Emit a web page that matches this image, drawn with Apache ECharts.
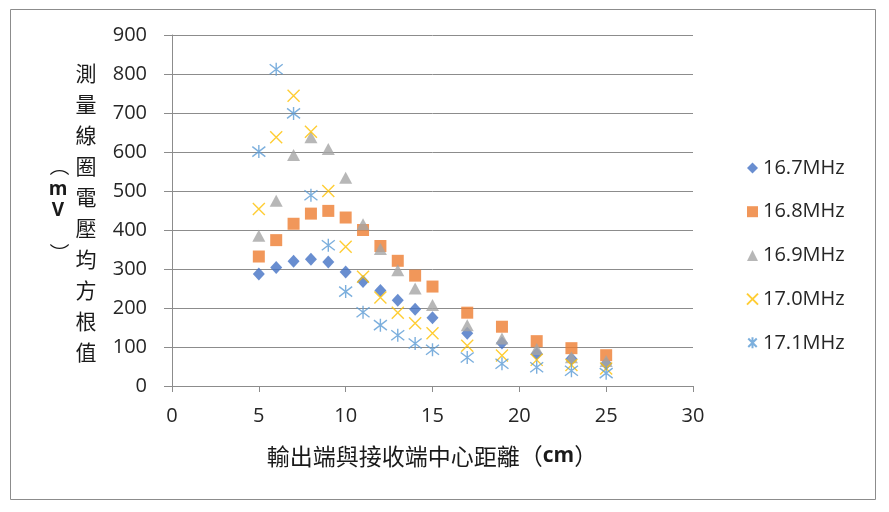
<!DOCTYPE html>
<html>
<head>
<meta charset="utf-8">
<script src="https://cdn.jsdelivr.net/npm/echarts@6/dist/echarts.min.js"></script>
<style>html,body{margin:0;padding:0;background:#fff;}#c{width:889px;height:512px;}</style>
</head>
<body>
<div id="c"></div>
<script>
const distances = [5, 6, 7, 8, 9, 10, 11, 12, 13, 14, 15, 17, 19, 21, 23, 25];
const seriesNames = ['16.7MHz', '16.8MHz', '16.9MHz', '17.0MHz', '17.1MHz'];
const f167 = [287, 304, 320, 325, 318, 292, 268, 245, 220, 197, 175, 135, 110, 83, 70, 57];
const f168 = [332, 374, 416, 442, 449, 432, 400, 359, 321, 283, 255, 188, 152, 115, 97, 79];
const f169 = [385, 475, 592, 638, 608, 534, 415, 351, 297, 250, 208, 156, 122, 95, 74, 64];
const f170 = [454, 638, 744, 652, 500, 357, 280, 227, 188, 161, 135, 103, 78, 67, 54, 45];
const f171 = [601, 812, 699, 489, 361, 242, 189, 156, 130, 109, 93, 73, 57, 48, 39, 33];
const xTicks = [0, 5, 10, 15, 20, 25, 30];
const yTicks = [0, 100, 200, 300, 400, 500, 600, 700, 800, 900];

const colors = ['#4472C4', '#ED7D31', '#A5A5A5', '#FFC000', '#5B9BD5'];
const xPath = 'path://M0,0L10,10M10,0L0,10';
const starPath = 'path://M0,0L10,10M10,0L0,10M5,-1.5L5,11.5';

function pts(vals) { return distances.map((d, i) => [d, vals[i]]); }

const values = [f167, f168, f169, f170, f171];
const symbols = ['diamond', 'rect', 'triangle', xPath, starPath];
const sizes = [[12, 13], 12, [13, 12], 12, 13];

const series = values.map((v, i) => {
  const lineOnly = i >= 3;
  return {
    name: seriesNames[i],
    type: 'scatter',
    data: pts(v),
    symbol: symbols[i],
    symbolSize: sizes[i],
    itemStyle: lineOnly
      ? { color: 'rgba(0,0,0,0)', borderColor: colors[i], borderWidth: 1.4 }
      : { color: colors[i] },
    emphasis: { disabled: true },
    z: 2 + i
  };
});

const txt = '#1a1a1a';
const chart = echarts.init(document.getElementById('c'), null, { renderer: 'canvas' });
chart.setOption({
  animation: false,
  backgroundColor: '#fff',
  color: colors,
  grid: { left: 172, right: 196, top: 35, bottom: 126 },
  xAxis: {
    type: 'value', min: xTicks[0], max: xTicks[xTicks.length - 1], interval: 5,
    axisLine: { show: true, onZero: false, lineStyle: { color: '#8c8c8c', width: 1 } },
    axisTick: { show: true, inside: false, length: 6, lineStyle: { color: '#8c8c8c' } },
    splitLine: { show: false },
    axisLabel: { color: '#262626', fontFamily: 'Open Sans', fontSize: 20, margin: 20 }
  },
  yAxis: {
    type: 'value', min: yTicks[0], max: yTicks[yTicks.length - 1], interval: 100,
    axisLine: { show: true, lineStyle: { color: '#8c8c8c', width: 1 } },
    axisTick: { show: true, inside: false, length: 8, lineStyle: { color: '#8c8c8c' } },
    splitLine: { show: true, lineStyle: { color: '#8c8c8c', width: 1 } },
    axisLabel: { color: '#262626', fontFamily: 'Open Sans', fontSize: 20, margin: 25 }
  },
  legend: {
    orient: 'vertical', left: 741, top: 152,
    itemWidth: 11, itemHeight: 11, itemGap: 21.7,
    data: seriesNames,
    textStyle: { color: '#262626', fontFamily: 'Open Sans', fontSize: 20, lineHeight: 22 },
    selectedMode: false
  },
  graphic: [
    { type: 'rect', shape: { x: 10.5, y: 9.5, width: 865, height: 490 }, style: { fill: 'none', stroke: '#8c8c8c', lineWidth: 1 }, silent: true },
    { type: 'text', x: 86, y: 73 - 15.5,
      style: { text: '測\n量\n線\n圈\n電\n壓\n均\n方\n根\n值', fill: txt, font: '21px "Noto Sans CJK TC"', lineHeight: 31, align: 'center', verticalAlign: 'top' } },
    { type: 'text', x: 60, y: 166, rotation: -Math.PI / 2,
      style: { text: '（', fill: txt, font: '20px "Noto Sans CJK TC"', align: 'center', verticalAlign: 'middle' } },
    { type: 'text', x: 58, y: 190,
      style: { text: 'm', fill: txt, font: 'bold 19px "Open Sans"', align: 'center', verticalAlign: 'middle' } },
    { type: 'text', x: 58, y: 211,
      style: { text: 'V', fill: txt, font: 'bold 19px "Open Sans"', align: 'center', verticalAlign: 'middle' } },
    { type: 'text', x: 60, y: 253, rotation: -Math.PI / 2,
      style: { text: '）', fill: txt, font: '20px "Noto Sans CJK TC"', align: 'center', verticalAlign: 'middle' } },
    { type: 'text', x: 432, y: 456,
      style: {
        text: '{a|輸出端與接收端中心距離（}{b|cm}{a|）}',
        align: 'center', verticalAlign: 'middle',
        rich: {
          a: { fill: txt, font: '23px "Noto Sans CJK TC"' },
          b: { fill: txt, font: 'bold 21px "Open Sans"' }
        }
      } }
  ],
  series: series
});
</script>
</body>
</html>
